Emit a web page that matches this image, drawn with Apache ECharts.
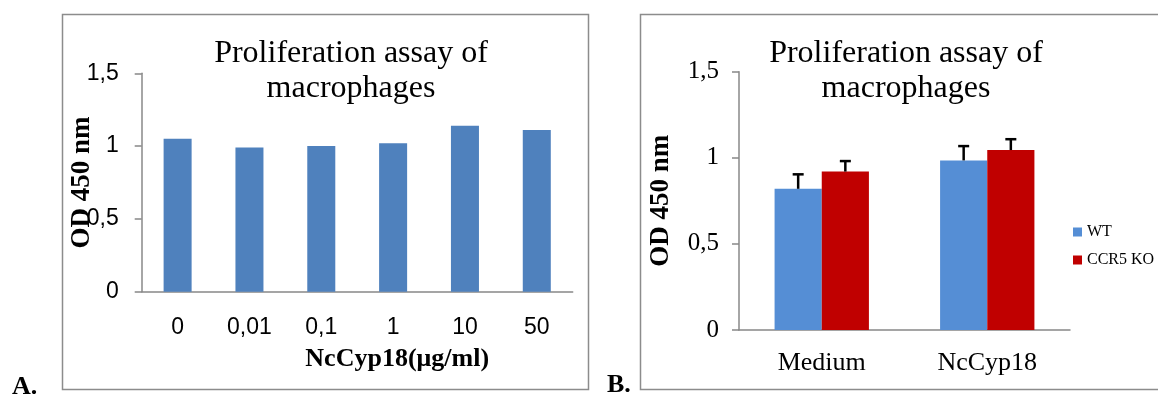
<!DOCTYPE html>
<html><head><meta charset="utf-8">
<script src="https://cdn.jsdelivr.net/npm/echarts@6/dist/echarts.min.js"></script>
<style>html,body{margin:0;padding:0;background:#fff}#c{width:1158px;height:394px}</style>
</head><body><div id="c"></div>
<script>
const titleText = 'Proliferation assay of\nmacrophages';
const yAxisName = 'OD 450 nm';
const xAxisNameA = 'NcCyp18(\u03bcg/ml)';
const catsA = ['0', '0,01', '0,1', '1', '10', '50'];
const valsA = [1.05, 0.99, 1.00, 1.02, 1.14, 1.11];
const catsB = ['Medium', 'NcCyp18'];
const seriesNamesB = ['WT', 'CCR5 KO'];
const wtB = [0.82, 0.985];
const koB = [0.92, 1.045];
const wtErrB = [0.084, 0.083];
const koErrB = [0.061, 0.063];
const yTicks = [0, 0.5, 1, 1.5];
const yTickLabels = ['0', '0,5', '1', '1,5'];

const SERIF = '"Liberation Serif", "Times New Roman", serif';
const SANS = '"Liberation Sans", Arial, sans-serif';
const AXIS_GRAY = '#888888';
const CAT_GAP_B = 0.43;

function tickFmt(v) {
  const i = yTicks.findIndex(t => Math.abs(t - v) < 1e-9);
  return i >= 0 ? yTickLabels[i] : '';
}

function errRender(side) {
  return function (params, api) {
    const i = api.value(0), v = api.value(1), e = api.value(2);
    const base = api.coord([i, v]);
    const top = api.coord([i, v + e]);
    const band = api.size([1, 0])[0];
    const bw = band * (1 - CAT_GAP_B) / 2;
    const x = base[0] + side * bw / 2;
    const cap = 5.5;
    return {
      type: 'group',
      children: [
        { type: 'line', shape: { x1: x, y1: base[1], x2: x, y2: top[1] }, style: { stroke: '#000', lineWidth: 2.5 } },
        { type: 'line', shape: { x1: x - cap, y1: top[1], x2: x + cap, y2: top[1] }, style: { stroke: '#000', lineWidth: 2.5 } }
      ]
    };
  };
}

function yAxisCommon(gridIndex, font, size, nameGap, margin) {
  return {
    type: 'value', gridIndex: gridIndex, min: 0, max: 1.5, interval: 0.5,
    name: yAxisName, nameLocation: 'middle', nameGap: nameGap, nameMoveOverlap: false,
    nameTextStyle: { fontFamily: SERIF, fontWeight: 'bold', fontSize: 27, color: '#000' },
    axisLine: { show: true, lineStyle: { color: AXIS_GRAY, width: 1.5 } },
    axisTick: { show: true, length: 7, lineStyle: { color: AXIS_GRAY, width: 1.5 } },
    splitLine: { show: false },
    axisLabel: { fontFamily: font, fontSize: size, color: '#000', margin: margin, formatter: tickFmt }
  };
}

const chart = echarts.init(document.getElementById('c'), null, { renderer: 'canvas' });
chart.setOption({
  animation: false,
  backgroundColor: '#fff',
  title: [
    { text: titleText, left: 351, top: 36, textAlign: 'center', padding: 0,
      textStyle: { fontFamily: SERIF, fontWeight: 'normal', fontSize: 32, lineHeight: 35, color: '#000' } },
    { text: titleText, left: 906, top: 36, textAlign: 'center', padding: 0,
      textStyle: { fontFamily: SERIF, fontWeight: 'normal', fontSize: 32, lineHeight: 35, color: '#000' } }
  ],
  graphic: [
    { type: 'rect', shape: { x: 62.5, y: 14.5, width: 526, height: 375 }, style: { fill: 'none', stroke: '#8c8c8c', lineWidth: 1.5 }, silent: true },
    { type: 'rect', shape: { x: 640.5, y: 14.5, width: 530, height: 375 }, style: { fill: 'none', stroke: '#8c8c8c', lineWidth: 1.5 }, silent: true },
    { type: 'text', x: 12, y: 374, style: { text: 'A.', fontFamily: SERIF, fontWeight: 'bold', fontSize: 26, fill: '#000', verticalAlign: 'top' } },
    { type: 'text', x: 607, y: 372, style: { text: 'B.', fontFamily: SERIF, fontWeight: 'bold', fontSize: 26, fill: '#000', verticalAlign: 'top' } }
  ],
  legend: {
    data: seriesNamesB, orient: 'vertical', left: 1073, top: 224, padding: 0,
    itemWidth: 9, itemHeight: 9, itemGap: 12, icon: 'rect',
    textStyle: { fontFamily: SERIF, fontSize: 16, color: '#000' }
  },
  grid: [
    { left: 141.7, right: 1158 - 572.7, top: 73.3, bottom: 394 - 291.7 },
    { left: 739, right: 1158 - 1070, top: 71.7, bottom: 394 - 330 }
  ],
  xAxis: [
    { type: 'category', gridIndex: 0, data: catsA,
      name: xAxisNameA, nameLocation: 'middle', nameGap: 55, nameMoveOverlap: false,
      nameTextStyle: { fontFamily: SERIF, fontWeight: 'bold', fontSize: 26, color: '#000', padding: [0, 0, 0, 80] },
      axisLine: { show: true, lineStyle: { color: AXIS_GRAY, width: 1.5 } },
      axisTick: { show: false },
      axisLabel: { fontFamily: SANS, fontSize: 23, color: '#000', margin: 24 } },
    { type: 'category', gridIndex: 1, data: catsB,
      axisLine: { show: true, lineStyle: { color: AXIS_GRAY, width: 1.5 } },
      axisTick: { show: false },
      axisLabel: { fontFamily: SERIF, fontSize: 26, color: '#000', margin: 20 } }
  ],
  yAxis: [
    yAxisCommon(0, SANS, 23, 46, 23),
    yAxisCommon(1, SERIF, 25, 64, 20)
  ],
  series: [
    { type: 'bar', name: 'A', xAxisIndex: 0, yAxisIndex: 0, data: valsA, barWidth: '39%',
      itemStyle: { color: '#4F81BD' } },
    { type: 'bar', name: seriesNamesB[0], xAxisIndex: 1, yAxisIndex: 1, data: wtB,
      barGap: '0%', barCategoryGap: (CAT_GAP_B * 100) + '%', itemStyle: { color: '#558ED5' } },
    { type: 'bar', name: seriesNamesB[1], xAxisIndex: 1, yAxisIndex: 1, data: koB,
      barGap: '0%', barCategoryGap: (CAT_GAP_B * 100) + '%', itemStyle: { color: '#C00000' } },
    { type: 'custom', name: 'errWT', xAxisIndex: 1, yAxisIndex: 1, z: 5,
      data: catsB.map((c, i) => [i, wtB[i], wtErrB[i]]), renderItem: errRender(-1) },
    { type: 'custom', name: 'errKO', xAxisIndex: 1, yAxisIndex: 1, z: 5,
      data: catsB.map((c, i) => [i, koB[i], koErrB[i]]), renderItem: errRender(1) }
  ]
});
</script>
</body></html>
